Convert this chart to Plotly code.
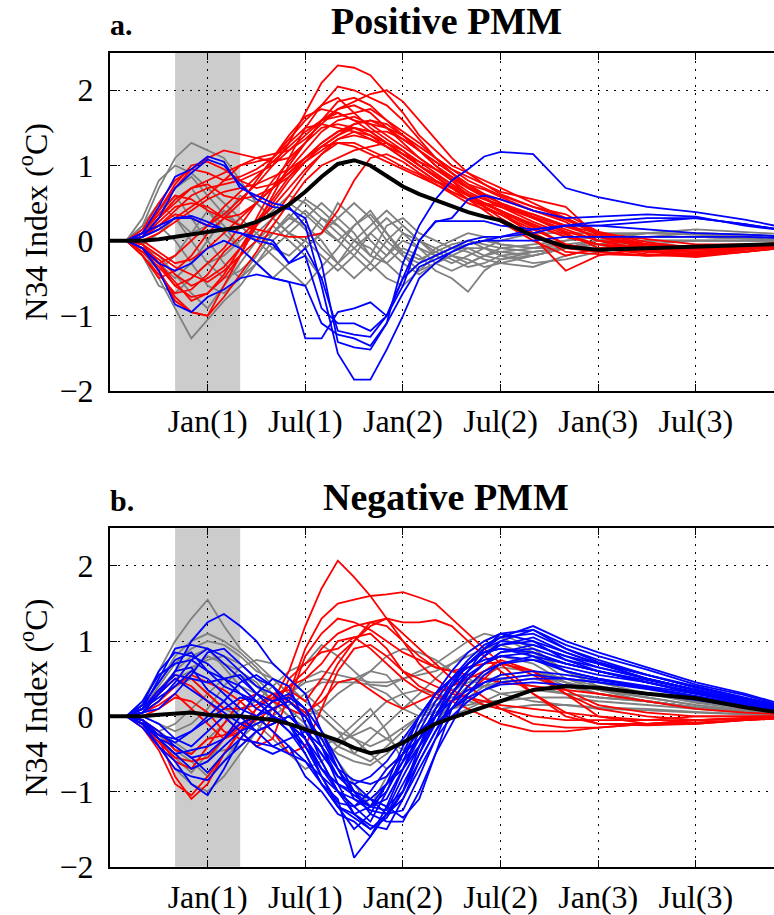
import plotly.graph_objects as go

# months relative to Jan of year 1
months = [-6, -5, -4, -3, -2, -1, 0, 1, 2, 3, 4, 5, 6, 7, 8, 9, 10, 11, 12, 13, 14, 15, 16, 17, 18,
          20, 22, 24, 27, 30, 33, 36]
tick_vals = [0, 6, 12, 18, 24, 30]
tick_text = ["Jan(1)", "Jul(1)", "Jan(2)", "Jul(2)", "Jan(3)", "Jul(3)"]
y_tick_vals = [-2, -1, 0, 1, 2]
y_tick_text = ["\u22122", "\u22121", "0", "1", "2"]
shade_months = [-2, 2]

# ---------------- panel a: Positive PMM ----------------
pos_red = [
    [0,0,0.05,0.3,0.5,0.7,0.8,0.9,1.0,1.05,1.1,1.3,1.7,2.1,2.33,2.3,2.2,1.95,1.7,1.4,1.2,1.0,0.9,0.8,0.7,0.5,0.3,0.1,-0.05,-0.1,-0.08,-0.05],
    [0,0,-0.1,-0.4,-0.8,-0.95,-1.0,-0.6,-0.2,0.3,0.7,1.1,1.5,1.8,2.05,2.0,1.9,1.8,1.6,1.35,1.1,0.95,0.85,0.75,0.65,0.55,0.45,0.05,-0.1,-0.15,-0.1,-0.06],
    [0,0,0.1,0.4,0.7,0.95,1.1,1.2,1.15,1.1,1.05,1.1,1.3,1.6,1.85,1.9,1.8,1.6,1.4,1.2,1.0,0.8,0.6,0.45,0.35,0.1,-0.1,-0.15,-0.2,-0.18,-0.12,-0.06],
    [0,0,-0.05,-0.3,-0.6,-0.75,-0.7,-0.5,-0.2,0.2,0.6,1.0,1.3,1.6,1.75,1.8,1.7,1.5,1.3,1.1,0.95,0.8,0.65,0.55,0.45,0.3,0.15,0.0,-0.12,-0.2,-0.15,-0.08],
    [0,0,0.15,0.5,0.8,0.95,0.9,0.8,0.85,0.95,1.1,1.35,1.6,1.8,1.9,1.7,1.5,1.35,1.2,1.0,0.85,0.7,0.55,0.4,0.25,0.0,-0.2,-0.1,-0.05,-0.08,-0.05,-0.03],
    [0,0,-0.2,-0.5,-0.4,-0.2,0.1,0.3,0.5,0.8,1.1,1.4,1.65,1.75,1.7,1.6,1.55,1.5,1.4,1.25,1.1,0.95,0.8,0.7,0.6,0.45,0.35,0.12,-0.02,-0.1,-0.08,-0.05],
    [0,0,0.1,0.2,0.4,0.6,0.7,0.75,0.8,0.9,1.0,1.2,1.4,1.6,1.65,1.7,1.75,1.6,1.45,1.3,1.1,0.9,0.7,0.6,0.5,0.35,0.2,0.05,-0.08,-0.12,-0.08,-0.05],
    [0,0,-0.15,-0.35,-0.6,-0.5,-0.3,-0.1,0.2,0.5,0.8,1.05,1.3,1.5,1.55,1.5,1.45,1.45,1.35,1.2,1.05,0.9,0.75,0.68,0.58,0.4,0.25,0.0,-0.15,-0.2,-0.15,-0.08],
    [0,0,0.05,0.2,0.35,0.3,0.2,0.35,0.55,0.75,1.0,1.3,1.5,1.55,1.5,1.45,1.35,1.25,1.15,1.0,0.88,0.75,0.6,0.5,0.4,0.2,0.05,-0.05,-0.1,-0.1,-0.08,-0.05],
    [0,0,-0.1,-0.25,-0.45,-0.6,-0.5,-0.35,-0.1,0.2,0.5,0.8,1.05,1.25,1.4,1.5,1.45,1.3,1.15,1.05,0.95,0.85,0.7,0.6,0.5,0.3,0.1,-0.1,-0.18,-0.22,-0.15,-0.08],
    [0,0,0.05,0.3,0.55,0.7,0.75,0.6,0.55,0.6,0.7,0.85,1.05,1.2,1.35,1.4,1.35,1.25,1.1,0.95,0.8,0.65,0.55,0.5,0.45,0.35,0.2,0.1,0.02,-0.05,-0.05,-0.03],
    [0,0,-0.2,-0.45,-0.7,-0.65,-0.45,-0.15,0.05,0.25,0.45,0.7,0.95,1.15,1.3,1.3,1.2,1.1,0.98,0.88,0.75,0.62,0.5,0.42,0.35,0.15,-0.05,-0.15,-0.2,-0.2,-0.12,-0.06],
    [0,0,0.0,0.1,0.25,0.4,0.55,0.65,0.7,0.75,0.85,0.95,1.1,1.25,1.4,1.55,1.6,1.5,1.35,1.2,1.05,0.9,0.75,0.62,0.5,0.3,0.12,0.0,-0.05,-0.08,-0.05,-0.03],
    [0,0,-0.1,-0.4,-0.75,-0.95,-1.0,-0.75,-0.45,-0.15,0.2,0.5,0.8,1.0,1.1,1.2,1.25,1.3,1.2,1.05,0.9,0.75,0.62,0.5,0.38,0.18,-0.05,-0.12,-0.15,-0.15,-0.1,-0.05],
    [0,0,0.1,0.35,0.6,0.55,0.4,0.3,0.35,0.5,0.7,0.95,1.2,1.45,1.6,1.65,1.55,1.4,1.25,1.1,0.95,0.82,0.7,0.58,0.45,0.25,0.08,-0.05,-0.12,-0.12,-0.08,-0.05],
    [0,0,-0.05,-0.2,-0.35,-0.45,-0.55,-0.4,-0.2,0.0,0.3,0.6,0.9,1.15,1.35,1.45,1.4,1.3,1.15,1.0,0.85,0.7,0.55,0.45,0.35,0.1,-0.15,-0.18,-0.2,-0.16,-0.1,-0.05],
    [0,0,0.05,0.25,0.45,0.5,0.45,0.3,0.2,0.15,0.1,0.05,0.05,0.1,0.4,0.8,1.1,1.15,1.05,0.9,0.78,0.7,0.6,0.5,0.4,0.05,-0.4,-0.2,-0.1,-0.1,-0.06,-0.04],
    [0,0,-0.15,-0.3,-0.2,0.0,0.2,0.45,0.65,0.85,1.05,1.25,1.45,1.6,1.7,1.6,1.45,1.3,1.15,1.0,0.85,0.72,0.62,0.55,0.48,0.32,0.18,0.05,-0.05,-0.1,-0.07,-0.04],
    [0,0,0.1,0.4,0.75,1.0,1.05,0.95,0.8,0.7,0.75,0.9,1.1,1.3,1.45,1.5,1.4,1.25,1.1,0.95,0.8,0.7,0.6,0.45,0.3,0.05,-0.1,-0.12,-0.12,-0.12,-0.08,-0.05],
    [0,0,-0.1,-0.3,-0.55,-0.8,-0.7,-0.45,-0.1,0.25,0.55,0.85,1.1,1.3,1.45,1.55,1.6,1.55,1.4,1.2,1.0,0.85,0.72,0.62,0.55,0.4,0.28,0.08,-0.1,-0.15,-0.1,-0.06],
    [0,0,0.0,-0.15,-0.3,-0.25,-0.1,0.1,0.3,0.5,0.7,0.9,1.1,1.25,1.3,1.25,1.15,1.05,0.95,0.85,0.75,0.65,0.55,0.48,0.4,0.22,0.05,-0.05,-0.15,-0.18,-0.12,-0.06],
    [0,0,0.05,0.15,0.3,0.45,0.6,0.8,1.0,1.1,1.15,1.2,1.35,1.55,1.75,1.85,1.95,2.0,1.85,1.6,1.35,1.1,0.9,0.75,0.62,0.45,0.3,0.1,-0.05,-0.12,-0.08,-0.05],
]
pos_gray = [
    [0,0,0.2,0.7,1.1,1.3,1.2,1.1,0.8,0.5,0.3,0.1,-0.1,0.1,0.5,0.3,0.0,-0.2,0.1,0.0,-0.1,-0.2,-0.3,-0.2,-0.15,-0.1,0.0,0.05,0.1,0.08,0.05,0.03],
    [0,0,-0.1,-0.5,-0.9,-1.3,-1.05,-0.8,-0.6,-0.3,-0.1,0.1,0.3,0.5,0.3,0.1,-0.2,-0.3,-0.1,-0.2,-0.4,-0.5,-0.68,-0.4,-0.25,-0.15,-0.1,-0.05,0.0,0.0,0.0,0.0],
    [0,0,0.3,0.8,1.0,0.9,0.7,0.5,0.3,0.1,-0.1,-0.2,0.0,0.3,0.2,0.0,-0.2,0.2,0.3,0.1,0.0,-0.1,-0.1,-0.2,-0.25,-0.2,-0.1,0.0,0.05,0.05,0.03,0.02],
    [0,0,-0.2,-0.6,-0.7,-0.5,-0.3,-0.2,0.0,0.2,0.4,0.6,0.5,0.3,0.1,-0.1,-0.3,-0.5,-0.6,-0.4,-0.2,-0.1,-0.15,-0.25,-0.3,-0.35,-0.2,-0.1,0.0,0.0,0.0,0.0],
    [0,0,0.1,0.4,0.6,0.3,0.0,-0.3,-0.5,-0.3,0.0,0.2,0.4,0.2,0.0,-0.2,-0.4,-0.2,0.0,-0.1,-0.3,-0.4,-0.3,-0.2,-0.1,-0.05,0.0,0.05,0.1,0.1,0.08,0.05],
    [0,0,-0.05,-0.3,-0.5,-0.3,0.0,0.3,0.6,0.5,0.3,0.1,0.0,-0.2,-0.4,-0.2,0.1,0.3,0.1,-0.1,-0.2,-0.1,0.0,-0.1,-0.2,-0.3,-0.25,-0.15,-0.05,0.0,0.0,0.0],
    [0,0,0.15,0.4,0.7,0.85,0.6,0.35,0.2,0.0,-0.2,-0.4,-0.6,-0.35,-0.1,0.2,0.4,0.1,-0.2,-0.3,-0.2,-0.1,-0.05,0.0,-0.05,-0.1,-0.05,0.0,0.05,0.05,0.03,0.02],
    [0,0,-0.15,-0.4,-0.2,0.1,0.4,0.2,-0.1,-0.3,-0.5,-0.3,-0.1,0.1,0.3,0.5,0.3,0.0,-0.2,-0.4,-0.3,-0.2,-0.25,-0.35,-0.3,-0.2,-0.1,0.0,0.05,0.05,0.03,0.02],
    [0,0,0.05,0.2,0.0,-0.3,-0.6,-0.7,-0.5,-0.2,0.1,0.3,0.55,0.4,0.2,0.0,-0.1,-0.3,-0.5,-0.3,-0.1,0.0,0.1,0.05,-0.05,-0.1,-0.1,0.0,0.1,0.15,0.12,0.08],
    [0,0,0.2,0.5,0.3,0.1,0.2,0.4,0.2,0.0,0.1,0.3,0.2,0.0,-0.3,-0.5,-0.3,0.0,0.2,0.0,-0.2,-0.3,-0.2,-0.1,0.0,0.1,0.1,0.1,0.1,0.08,0.05,0.03],
    [0,0,-0.1,-0.2,-0.45,-0.7,-0.9,-0.6,-0.3,0.0,0.2,0.0,-0.2,-0.5,-0.3,0.0,0.2,0.4,0.2,0.0,-0.15,-0.25,-0.35,-0.3,-0.2,-0.15,-0.1,-0.05,0.0,0.0,0.0,0.0],
    [0,0,0.1,0.3,0.55,0.7,0.4,0.1,-0.1,0.1,0.3,0.5,0.35,0.15,0.0,0.2,0.35,0.1,-0.15,-0.25,-0.15,-0.05,0.0,-0.05,-0.1,-0.15,-0.1,0.0,0.05,0.05,0.03,0.02],
    [0,0,-0.05,0.1,0.3,0.0,-0.3,-0.5,-0.4,-0.2,0.1,0.35,0.15,-0.1,-0.3,-0.1,0.1,-0.1,-0.3,-0.45,-0.3,-0.2,-0.1,-0.1,-0.15,-0.2,-0.1,0.0,0.05,0.1,0.08,0.05],
]
pos_blue = [
    [0,0,0.1,0.45,0.85,0.95,1.12,1.05,0.7,0.6,0.5,0.45,0.2,-0.6,-1.5,-1.85,-1.85,-1.45,-1.0,-0.5,-0.3,-0.15,-0.05,0.0,0.05,0.15,0.2,0.2,0.25,0.3,0.22,0.12],
    [0,0,0.05,0.3,0.7,0.9,1.08,1.0,0.75,0.55,0.45,0.42,0.3,-0.3,-1.35,-1.42,-1.45,-1.1,-0.3,0.2,0.55,0.8,0.95,1.12,1.18,1.15,0.7,0.58,0.45,0.38,0.28,0.15],
    [0,0,0.1,0.2,0.3,0.33,0.25,0.15,0.1,0.05,0.0,-0.3,-0.2,-0.9,-1.1,-1.1,-1.2,-1.0,-0.6,0.0,0.25,0.3,0.55,0.6,0.55,0.4,0.3,0.32,0.35,0.32,0.2,0.12],
    [0,0,-0.1,-0.4,-0.85,-0.95,-0.75,-0.65,-0.5,-0.45,-0.5,-0.55,-1.3,-1.3,-0.95,-0.9,-0.82,-1.0,-0.5,0.0,0.26,0.26,0.26,0.26,0.2,0.15,0.2,0.25,0.3,0.3,0.22,0.12],
    [0,0,0.05,0.15,0.3,0.3,0.2,0.15,0.1,0.0,-0.05,-0.3,-0.1,-0.5,-1.2,-1.25,-1.28,-1.0,-0.5,-0.3,-0.2,-0.1,0.0,0.05,0.05,0.1,0.2,0.2,0.15,0.1,0.08,0.05],
    [0,0,-0.1,-0.3,-0.4,-0.3,-0.1,0.0,-0.1,-0.3,-0.5,-0.55,-0.6,-1.1,-1.25,-1.3,-1.4,-1.1,-0.7,-0.35,-0.25,-0.15,-0.05,0.0,0.0,0.0,0.05,0.05,0.05,0.05,0.05,0.03],
]
pos_mean = [0,0,0.0,0.02,0.05,0.08,0.12,0.15,0.18,0.25,0.35,0.48,0.65,0.85,1.02,1.07,1.0,0.86,0.72,0.62,0.54,0.45,0.38,0.32,0.27,0.06,-0.08,-0.12,-0.1,-0.08,-0.06,-0.04]

# ---------------- panel b: Negative PMM ----------------
neg_red = [
    [0,0,-0.1,-0.3,-0.8,-1.1,-0.9,-0.5,-0.2,0.0,0.2,0.6,1.2,1.7,2.07,1.85,1.6,1.3,1.0,0.7,0.5,0.35,0.25,0.15,0.1,0.0,-0.05,-0.05,-0.05,0.0,0.0,0.0],
    [0,0,0.1,0.3,0.5,0.4,0.2,0.0,-0.2,-0.4,-0.3,0.3,0.9,1.3,1.5,1.55,1.6,1.62,1.65,1.58,1.5,1.3,1.1,0.9,0.7,0.3,0.0,-0.1,-0.1,-0.08,-0.05,-0.02],
    [0,0,-0.05,-0.3,-0.6,-0.7,-0.4,-0.1,0.2,0.3,0.2,0.4,0.6,0.9,1.1,1.2,1.25,1.3,1.25,1.25,1.28,1.2,1.0,0.8,0.6,0.3,0.05,-0.1,-0.12,-0.1,-0.05,-0.02],
    [0,0,0.1,0.35,0.55,0.5,0.3,0.1,0.1,0.15,0.3,0.2,0.8,1.1,1.3,1.25,1.15,1.0,0.85,0.75,0.65,0.6,0.55,0.5,0.45,0.4,0.35,0.3,0.2,0.1,0.05,0.02],
    [0,0,-0.15,-0.45,-0.9,-1.05,-0.8,-0.5,-0.2,0.1,0.3,0.35,0.2,0.5,0.8,1.0,1.2,1.3,1.1,0.9,0.7,0.5,0.4,0.25,0.1,-0.1,-0.15,-0.15,-0.1,-0.05,-0.02,0.0],
    [0,0,0.05,0.2,0.4,0.55,0.45,0.35,0.2,0.0,-0.2,-0.5,-0.4,0.1,0.6,0.9,0.95,0.8,0.6,0.5,0.4,0.3,0.25,0.2,0.15,0.1,0.05,0.0,-0.05,-0.05,-0.03,0.0],
    [0,0,-0.05,-0.2,-0.45,-0.5,-0.3,-0.25,-0.1,0.0,0.2,0.1,0.0,0.3,0.7,1.0,1.25,1.2,1.0,0.8,0.65,0.6,0.65,0.7,0.72,0.55,0.3,0.1,0.0,-0.05,-0.03,0.0],
    [0,0,0.0,0.1,0.25,0.2,0.05,-0.2,-0.3,-0.35,0.0,0.5,0.7,0.85,0.9,1.05,1.1,0.9,0.6,0.4,0.3,0.2,0.3,0.5,0.7,0.6,0.35,0.15,0.05,0.0,0.0,0.0],
    [0,0,-0.1,-0.35,-0.55,-0.6,-0.55,-0.3,-0.2,-0.05,0.1,0.2,0.05,0.2,0.45,0.5,0.35,0.2,0.1,0.2,0.3,0.4,0.5,0.6,0.75,0.6,0.3,0.0,-0.1,-0.1,-0.05,-0.02],
    [0,0,0.05,0.15,0.3,0.1,-0.1,-0.3,-0.15,0.1,0.25,0.4,0.5,0.7,1.0,1.05,0.9,0.7,0.5,0.35,0.25,0.2,0.1,0.0,-0.1,-0.2,-0.2,-0.15,-0.1,-0.05,-0.03,0.0],
]
neg_gray = [
    [0,0,0.2,0.6,1.0,1.3,1.55,1.2,0.9,0.7,0.5,0.3,0.1,-0.2,-0.4,-0.5,-0.3,-0.1,0.1,0.3,0.5,0.7,0.85,1.0,1.1,0.9,0.6,0.4,0.3,0.2,0.1,0.05],
    [0,0,-0.1,-0.4,-0.7,-0.9,-1.0,-0.8,-0.5,-0.2,0.1,0.3,0.5,0.6,0.55,0.5,0.45,0.45,0.5,0.55,0.6,0.7,0.8,0.9,0.95,0.8,0.5,0.35,0.25,0.15,0.08,0.03],
    [0,0,0.1,0.4,0.7,0.9,1.0,0.95,0.8,0.6,0.5,0.3,0.0,-0.3,-0.6,-0.9,-1.2,-0.8,-0.5,-0.3,-0.1,0.1,0.2,0.35,0.5,0.55,0.45,0.35,0.25,0.15,0.08,0.03],
    [0,0,-0.15,-0.3,-0.5,-0.7,-0.6,-0.3,0.0,0.3,0.5,0.4,0.2,0.0,-0.2,-0.3,-0.5,-0.7,-0.5,-0.3,-0.1,0.0,0.1,0.2,0.3,0.35,0.3,0.25,0.2,0.12,0.06,0.02],
    [0,0,0.05,0.3,0.5,0.6,0.8,0.7,0.6,0.45,0.2,0.0,-0.2,-0.4,-0.3,-0.1,0.1,-0.2,-0.6,-0.4,-0.1,0.2,0.4,0.6,0.7,0.6,0.4,0.3,0.2,0.12,0.06,0.02],
    [0,0,-0.05,-0.2,-0.35,-0.5,-0.3,-0.1,0.1,0.2,0.4,0.6,0.7,0.95,0.8,0.6,0.4,0.3,0.1,0.0,0.05,0.2,0.4,0.55,0.65,0.6,0.45,0.35,0.2,0.12,0.06,0.02],
    [0,0,0.1,0.3,0.6,0.65,0.75,0.8,0.7,0.5,0.3,0.1,-0.1,-0.3,-0.5,-0.6,-0.65,-0.5,-0.3,-0.1,0.1,0.3,0.5,0.7,0.8,0.7,0.45,0.3,0.2,0.12,0.06,0.02],
    [0,0,-0.1,-0.25,-0.45,-0.6,-0.8,-0.6,-0.3,-0.1,0.0,0.15,0.3,0.45,0.45,0.45,0.42,0.4,0.5,0.6,0.7,0.85,1.0,1.1,1.05,0.85,0.6,0.45,0.3,0.18,0.1,0.04],
    [0,0,0.05,0.2,0.4,0.5,0.3,0.1,0.0,-0.1,-0.3,-0.5,-0.7,-0.6,-0.4,-0.2,0.0,0.2,0.3,0.35,0.3,0.25,0.2,0.15,0.1,0.15,0.15,0.1,0.08,0.05,0.03,0.0],
    [0,0,0.0,-0.1,-0.2,-0.1,0.1,0.4,0.65,0.75,0.7,0.5,0.3,0.1,-0.1,-0.3,-0.4,-0.3,-0.15,0.0,0.15,0.25,0.35,0.4,0.45,0.5,0.4,0.3,0.2,0.12,0.06,0.02],
    [0,0,0.15,0.45,0.8,1.0,1.1,1.0,0.85,0.65,0.4,0.2,0.0,0.1,0.3,0.45,0.6,0.8,0.9,0.85,0.75,0.6,0.5,0.4,0.3,0.2,0.15,0.12,0.1,0.06,0.03,0.0],
    [0,0,-0.05,-0.3,-0.55,-0.75,-0.5,-0.45,-0.4,-0.2,-0.1,0.0,0.1,0.0,-0.2,-0.5,-0.6,-0.4,-0.2,0.0,0.2,0.35,0.45,0.5,0.5,0.4,0.3,0.25,0.2,0.12,0.06,0.02],
    [0,0,0.1,0.35,0.6,0.8,0.9,0.65,0.4,0.3,0.2,0.3,0.45,0.5,0.45,0.5,0.6,0.55,0.3,0.1,0.0,0.1,0.25,0.4,0.55,0.6,0.5,0.4,0.3,0.2,0.1,0.04],
    [0,0,-0.1,-0.2,-0.1,0.1,0.3,0.5,0.55,0.4,0.2,0.0,-0.15,-0.3,-0.35,-0.25,-0.15,-0.3,-0.45,-0.2,0.0,0.1,0.15,0.2,0.2,0.25,0.25,0.2,0.15,0.1,0.05,0.02],
]
neg_blue = [
    [0,0,0.1,0.5,0.9,0.95,0.9,0.8,0.6,0.4,0.3,0.1,-0.3,-0.8,-1.2,-1.5,-1.3,-0.9,-0.4,0.0,0.3,0.5,0.7,0.9,1.05,1.2,1.0,0.85,0.65,0.45,0.3,0.12],
    [0,0,0.05,0.3,0.6,1.0,1.25,1.36,1.2,1.0,0.7,0.5,0.3,-0.2,-0.7,-1.0,-1.2,-1.1,-0.7,-0.3,0.1,0.4,0.6,0.8,1.0,1.15,0.95,0.8,0.62,0.42,0.28,0.1],
    [0,0,-0.1,-0.4,-0.6,-0.9,-1.05,-0.7,-0.3,0.0,0.2,0.3,0.1,-0.4,-0.9,-1.3,-1.5,-1.3,-0.9,-0.5,-0.1,0.3,0.6,0.9,1.1,1.0,0.85,0.7,0.5,0.35,0.2,0.08],
    [0,0,0.15,0.6,0.85,0.8,0.7,0.5,0.3,0.1,0.0,-0.2,-0.5,-0.9,-1.1,-1.88,-1.6,-1.3,-1.0,-0.5,0.0,0.4,0.7,0.85,0.95,1.0,0.75,0.65,0.5,0.35,0.22,0.08],
    [0,0,0.05,0.1,0.3,0.55,0.85,0.9,0.7,0.5,0.4,0.2,0.0,-0.3,-0.7,-1.1,-1.25,-1.3,-1.25,-0.8,-0.3,0.2,0.5,0.7,0.85,0.95,0.8,0.7,0.55,0.4,0.25,0.1],
    [0,0,-0.05,-0.3,-0.5,-0.45,-0.4,-0.3,0.0,0.3,0.5,0.4,-0.1,-0.6,-1.0,-1.2,-1.4,-1.0,-0.5,0.0,0.3,0.5,0.65,0.75,0.8,0.75,0.65,0.55,0.45,0.3,0.18,0.06],
    [0,0,0.1,0.25,0.4,0.6,0.5,0.3,0.1,0.0,-0.2,-0.4,-0.8,-1.0,-1.3,-1.4,-1.6,-1.2,-0.7,-0.2,0.2,0.5,0.7,0.85,0.9,0.8,0.6,0.5,0.4,0.3,0.18,0.06],
    [0,0,-0.1,-0.25,-0.3,-0.2,0.0,0.2,0.45,0.55,0.4,0.1,-0.3,-0.7,-0.9,-1.0,-1.1,-1.2,-1.35,-1.1,-0.5,0.1,0.4,0.6,0.7,0.75,0.6,0.5,0.38,0.26,0.16,0.05],
    [0,0,0.05,0.3,0.5,0.35,0.2,0.05,-0.1,-0.2,-0.1,0.0,-0.2,-0.5,-0.8,-0.9,-0.8,-0.6,-0.3,0.0,0.3,0.5,0.75,0.95,1.05,1.1,0.9,0.75,0.55,0.38,0.24,0.08],
    [0,0,-0.1,-0.3,-0.5,-0.7,-0.6,-0.4,-0.2,-0.1,0.0,-0.1,-0.4,-0.8,-1.15,-1.2,-1.0,-0.7,-0.5,-0.3,0.0,0.3,0.55,0.7,0.8,0.85,0.7,0.6,0.45,0.32,0.2,0.06],
    [0,0,0.2,0.55,0.7,0.75,0.6,0.5,0.4,0.2,0.0,-0.1,-0.3,-0.6,-1.0,-1.3,-1.45,-1.5,-1.1,-0.6,-0.2,0.2,0.5,0.7,0.85,0.9,0.75,0.6,0.48,0.34,0.2,0.07],
    [0,0,-0.05,-0.2,-0.4,-0.55,-0.75,-0.5,-0.3,-0.35,-0.4,-0.3,-0.2,-0.5,-0.8,-0.9,-1.1,-1.2,-1.0,-0.6,-0.2,0.1,0.3,0.45,0.55,0.6,0.55,0.48,0.38,0.26,0.15,0.05],
    [0,0,0.1,0.3,0.6,0.65,0.35,0.2,0.0,-0.2,-0.4,-0.5,-0.6,-0.8,-1.0,-1.1,-1.2,-1.0,-0.6,-0.1,0.3,0.6,0.85,1.0,1.1,1.15,0.9,0.72,0.55,0.38,0.24,0.08],
    [0,0,-0.15,-0.4,-0.7,-0.8,-0.85,-0.6,-0.4,-0.2,-0.1,0.0,-0.2,-0.4,-0.7,-0.85,-0.9,-0.8,-0.5,-0.2,0.0,0.2,0.35,0.45,0.5,0.55,0.5,0.45,0.36,0.25,0.15,0.05],
    [0,0,0.05,0.2,0.45,0.75,0.9,0.7,0.5,0.3,0.2,0.25,0.1,-0.2,-0.6,-1.0,-1.3,-1.4,-1.4,-1.0,-0.5,-0.1,0.3,0.55,0.7,0.8,0.7,0.6,0.45,0.32,0.2,0.06],
    [0,0,0.0,-0.1,-0.3,-0.4,-0.2,0.0,-0.2,-0.4,-0.5,-0.4,-0.6,-0.9,-1.2,-1.35,-1.5,-1.35,-1.0,-0.4,0.1,0.45,0.7,0.85,0.9,0.85,0.7,0.6,0.45,0.3,0.18,0.05],
    [0,0,0.1,0.35,0.55,0.5,0.45,0.5,0.55,0.3,0.1,-0.1,-0.5,-0.9,-1.2,-1.3,-1.2,-0.9,-0.6,-0.3,0.0,0.3,0.6,0.8,0.95,1.05,0.85,0.7,0.5,0.35,0.22,0.07],
    [0,0,-0.05,-0.25,-0.35,-0.2,-0.05,0.1,0.25,0.2,0.0,-0.2,-0.4,-0.7,-0.9,-1.05,-1.2,-1.25,-0.8,-0.4,-0.1,0.1,0.25,0.35,0.42,0.45,0.42,0.38,0.3,0.22,0.12,0.04],
    [0,0,0.15,0.45,0.75,0.85,0.6,0.4,0.3,0.2,0.1,-0.1,-0.3,-0.7,-1.0,-1.2,-1.1,-0.9,-0.7,-0.4,0.0,0.4,0.7,0.9,1.0,0.95,0.8,0.65,0.5,0.35,0.22,0.07],
    [0,0,-0.1,-0.3,-0.4,-0.55,-0.5,-0.3,-0.1,0.0,0.1,0.2,0.0,-0.4,-0.8,-1.0,-1.1,-1.3,-1.1,-0.7,-0.3,0.0,0.2,0.35,0.45,0.5,0.5,0.45,0.38,0.27,0.16,0.05],
]
neg_mean = [0,0,0.0,0.02,0.03,0.05,0.02,0.0,0.0,-0.02,-0.05,-0.1,-0.17,-0.24,-0.32,-0.42,-0.49,-0.45,-0.35,-0.22,-0.1,-0.02,0.05,0.12,0.2,0.35,0.4,0.38,0.3,0.24,0.12,0.02]

RED, BLUE, GRAY, BLACK = "#ff0000", "#0000ff", "#808080", "#000000"
FONT = "Liberation Serif"

fig = go.Figure()

def add_panel(gray, red, blue, mean, xa, ya):
    for grp, col in ((gray, GRAY), (red, RED), (blue, BLUE)):
        for i, s in enumerate(grp):
            assert len(s) == len(months), (col, i, len(s))
            fig.add_trace(go.Scatter(x=months, y=s, mode="lines", xaxis=xa, yaxis=ya,
                                     line=dict(color=col, width=1.8), showlegend=False,
                                     hoverinfo="skip"))
    assert len(mean) == len(months)
    fig.add_trace(go.Scatter(x=months, y=mean, mode="lines", xaxis=xa, yaxis=ya,
                             line=dict(color=BLACK, width=4), showlegend=False,
                             hoverinfo="skip"))

add_panel(pos_gray, pos_red, pos_blue, pos_mean, "x", "y")
add_panel(neg_gray, neg_red, neg_blue, neg_mean, "x2", "y2")

W, H = 774, 915
L = 110

def ydom(top_px, bot_px):
    return [1 - bot_px / H, 1 - top_px / H]

xcommon = dict(range=[-6, 34.8], tickvals=tick_vals, ticktext=tick_text,
               ticks="inside", ticklen=7, tickwidth=1.2, tickcolor="black",
               showline=True, linecolor="black", linewidth=2, mirror="ticks",
               showgrid=True, gridcolor="black", gridwidth=1, griddash="2px,6px",
               zeroline=False, tickfont=dict(family=FONT, size=32, color="black"),
               automargin=False, fixedrange=True, ticklabelstandoff=1)
ycommon = dict(range=[-2, 2.5], tickvals=y_tick_vals, ticktext=y_tick_text,
               ticks="inside", ticklen=7, tickwidth=1.2, tickcolor="black",
               showline=True, linecolor="black", linewidth=2, mirror=False,
               showgrid=True, gridcolor="black", gridwidth=1, griddash="2px,6px",
               zeroline=False, tickfont=dict(family=FONT, size=32, color="black"),
               automargin=False, fixedrange=True, ticklabelstandoff=8)

top_dom = ydom(52.7, 391)
bot_dom = ydom(528.3, 866.7)

fig.update_layout(
    width=W, height=H,
    margin=dict(l=L, r=0, t=0, b=0),
    paper_bgcolor="white", plot_bgcolor="white",
    xaxis=dict(xcommon, anchor="y", domain=[0, 1]),
    yaxis=dict(ycommon, anchor="x", domain=top_dom),
    xaxis2=dict(xcommon, anchor="y2", domain=[0, 1]),
    yaxis2=dict(ycommon, anchor="x2", domain=bot_dom),
)

for xr, yr in (("x", "y"), ("x2", "y2")):
    fig.add_shape(type="rect", xref=xr, yref=yr + " domain", x0=shade_months[0], x1=shade_months[1],
                  y0=0, y1=1, fillcolor="#cccccc", line=dict(width=0), layer="below")

PW = W - L
def px_x(px):
    return (px - L) / PW
def px_y(py):
    return 1 - py / H

ann = []
for title, lab, ty, dom in (("Positive PMM", "a.", 21, top_dom), ("Negative PMM", "b.", 497, bot_dom)):
    ann.append(dict(text="<b>%s</b>" % title, x=px_x(446), y=px_y(ty), xref="paper", yref="paper",
                    xanchor="center", yanchor="middle", showarrow=False,
                    font=dict(family=FONT, size=38, color="black")))
    ann.append(dict(text="<b>%s</b>" % lab, x=px_x(108), y=px_y(ty + 3), xref="paper", yref="paper",
                    xanchor="left", yanchor="middle", showarrow=False,
                    font=dict(family=FONT, size=30, color="black")))
    ann.append(dict(text="N34 Index (<sup>o</sup>C)", x=px_x(33), y=(dom[0] + dom[1]) / 2,
                    xref="paper", yref="paper", xanchor="center", yanchor="middle",
                    textangle=-90, showarrow=False,
                    font=dict(family=FONT, size=32, color="black")))
fig.update_layout(annotations=ann)

fig.write_html("out.html")
